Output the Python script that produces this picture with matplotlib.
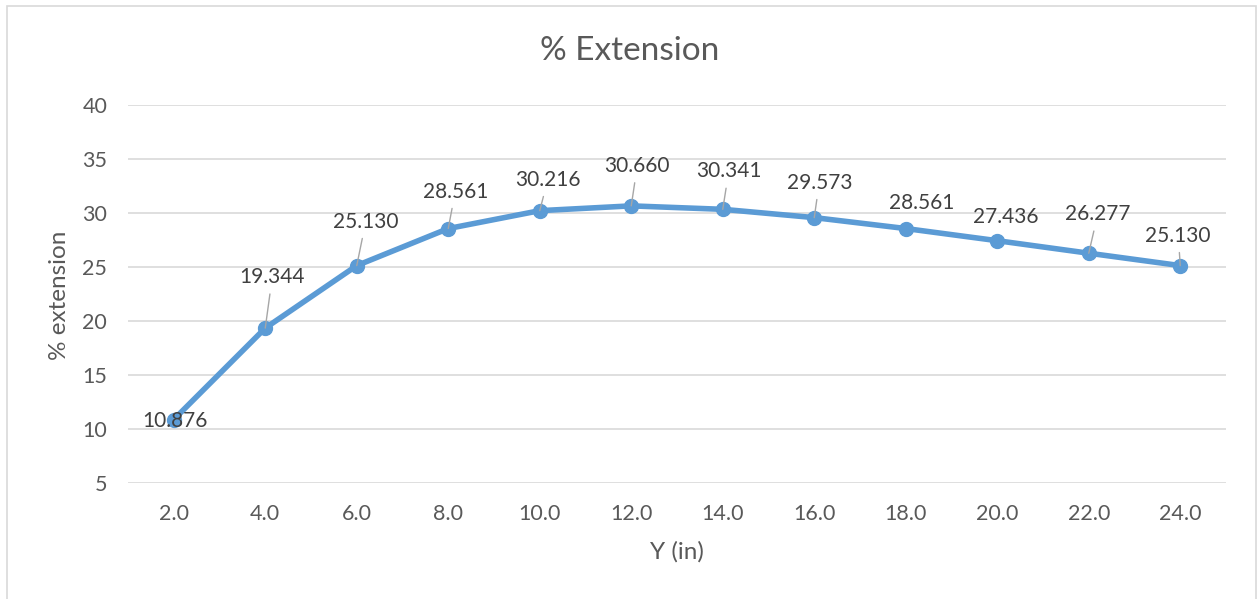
import matplotlib
matplotlib.use("Agg")
import matplotlib.pyplot as plt
from matplotlib.patches import Rectangle

# Data ------------------------------------------------------------------------
y_in = ["2.0", "4.0", "6.0", "8.0", "10.0", "12.0", "14.0", "16.0", "18.0", "20.0", "22.0", "24.0"]
extension = [10.876, 19.344, 25.130, 28.561, 30.216, 30.660, 30.341, 29.573, 28.561, 27.436, 26.277, 25.130]

# label placement (offset in pixels from point) and whether a leader line is drawn
label_offsets = [(1, -1), (7, 51), (9, 44), (7, 37), (8, 31), (6, 40),
                 (6, 38), (5, 35), (16, 26), (8, 24), (9, 39), (-2, 30)]
leaders = [False, True, True, True, True, True, True, True, False, False, True, True]

plt.rcParams['font.family'] = ['Lato', 'DejaVu Sans']

fig = plt.figure(figsize=(12.59, 5.99), dpi=100)
ax = fig.add_axes([128 / 1259, 116 / 599, 1098 / 1259, 378 / 599])

# chart border
fig.patches.append(Rectangle((7 / 1259, -0.05), 1249 / 1259, 1.04, transform=fig.transFigure,
                             fill=False, edgecolor='#D9D9D9', lw=1.2))

x = list(range(len(y_in)))
ax.plot(x, extension, color='#5B9BD5', lw=4, marker='o', markersize=10,
        solid_capstyle='round', zorder=3)

for i, v in enumerate(extension):
    dx, dy = label_offsets[i]
    props = None
    if leaders[i]:
        props = dict(arrowstyle='-', color='#A6A6A6', lw=1, shrinkA=3, shrinkB=0)
    ax.annotate(f"{v:.3f}", xy=(i, v), xytext=(dx * 0.72, dy * 0.72), textcoords='offset points',
                ha='center', va='center', fontsize=15, color='#404040',
                arrowprops=props, zorder=4)

ax.set_xlim(-0.5, len(y_in) - 0.5)
ax.set_ylim(5, 40)
ax.set_yticks(range(5, 41, 5))
ax.set_xticks(x)
ax.set_xticklabels(y_in)
ax.grid(axis='y', color='#D9D9D9', lw=1.2)
ax.set_axisbelow(True)
for s in ax.spines.values():
    s.set_visible(False)
ax.tick_params(length=0, labelsize=15.5, colors='#595959')
ax.tick_params(axis='x', pad=15)
ax.tick_params(axis='y', pad=15)

fig.text(0.5, 1 - 51 / 599, "% Extension", fontsize=24, color='#595959', ha='center', va='center')
fig.text(677 / 1259, 1 - 552 / 599, "Y (in)", fontsize=17.5, color='#595959', ha='center', va='center')
fig.text(60 / 1259, 1 - 295 / 599, "% extension", fontsize=17.5, color='#595959',
         ha='center', va='center', rotation=90)

fig.savefig("out.png", dpi=100, facecolor='white')
